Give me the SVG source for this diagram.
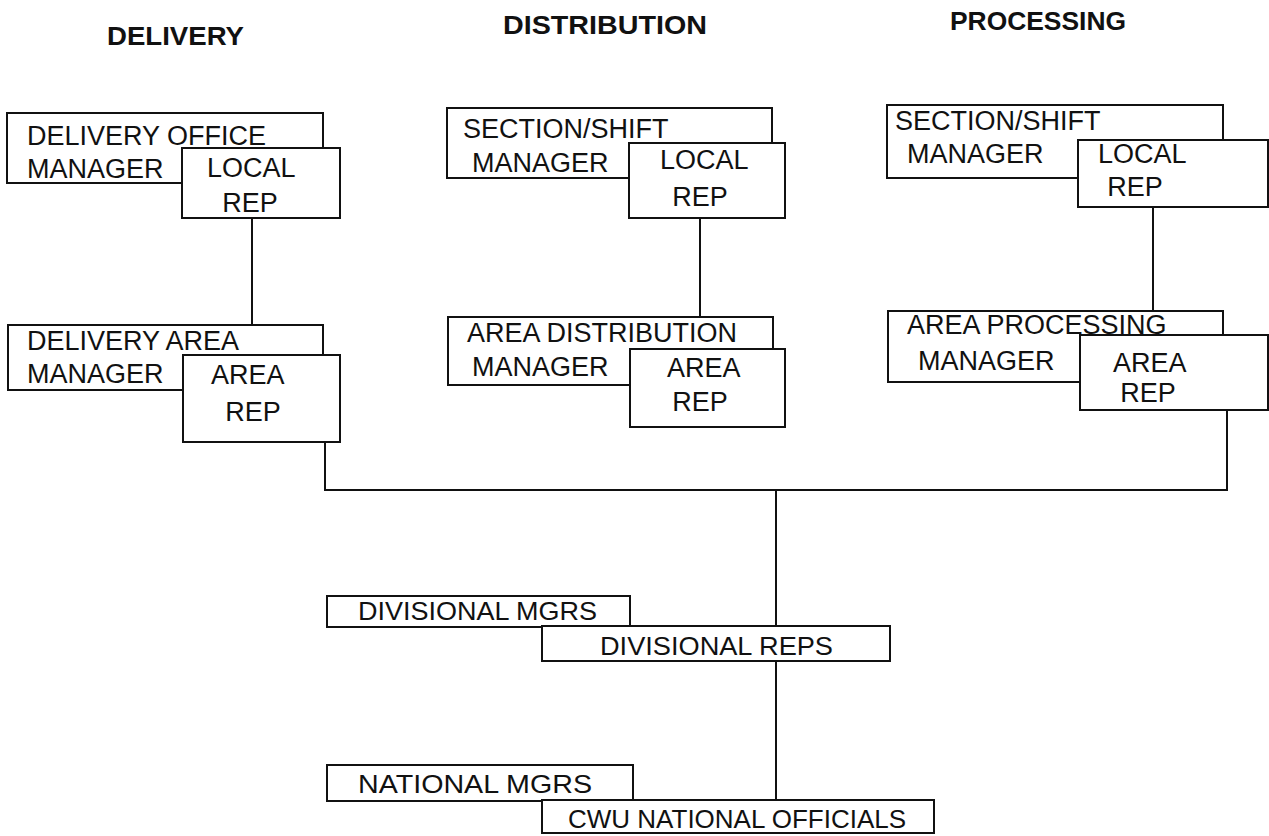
<svg xmlns="http://www.w3.org/2000/svg" width="1269" height="836" viewBox="0 0 1269 836">
<style>
.bg{fill:#fff}
rect.b{fill:#fff;stroke:#111;stroke-width:2}
text{font-family:"Liberation Sans",Arial,sans-serif;fill:#111}
.h{font-size:26px;font-weight:bold}
.t{font-size:27px}
.s{font-size:26px}
.m{text-anchor:middle}
.c line,.c polyline{stroke:#111;stroke-width:2;fill:none}
</style>
<rect class="bg" width="1269" height="836"/>
<g id="headings">
<text class="h" x="107" y="45" textLength="137" lengthAdjust="spacingAndGlyphs">DELIVERY</text>
<text class="h" x="503" y="34" textLength="204" lengthAdjust="spacingAndGlyphs">DISTRIBUTION</text>
<text class="h" x="950" y="30" textLength="176" lengthAdjust="spacingAndGlyphs">PROCESSING</text>
</g>
<g class="c" id="connectors">
<line x1="252" y1="218" x2="252" y2="325"/>
<line x1="700" y1="218" x2="700" y2="317"/>
<line x1="1153" y1="207" x2="1153" y2="311"/>
<polyline points="325,442 325,490 1227,490 1227,410"/>
<line x1="776" y1="490" x2="776" y2="626"/>
<line x1="776" y1="661" x2="776" y2="800"/>
</g>
<g id="delivery-office-manager"><rect class="b" x="7" y="113" width="316" height="70"/>
<text class="t" x="27" y="145">DELIVERY OFFICE</text><text class="t" x="27" y="178">MANAGER</text></g>
<g id="delivery-local-rep"><rect class="b" x="182" y="148" width="158" height="70"/>
<text class="t" x="207" y="177">LOCAL</text><text class="t m" x="250" y="212">REP</text></g>
<g id="delivery-area-manager"><rect class="b" x="8" y="325" width="315" height="65"/>
<text class="t" x="27" y="350">DELIVERY AREA</text><text class="t" x="27" y="383">MANAGER</text></g>
<g id="delivery-area-rep"><rect class="b" x="183" y="355" width="157" height="87"/>
<text class="t" x="211" y="384">AREA</text><text class="t m" x="253" y="421">REP</text></g>
<g id="distribution-section-manager"><rect class="b" x="447" y="108" width="325" height="70"/>
<text class="t" x="463" y="138">SECTION/SHIFT</text><text class="t" x="472" y="172">MANAGER</text></g>
<g id="distribution-local-rep"><rect class="b" x="629" y="143" width="156" height="75"/>
<text class="t" x="660" y="169">LOCAL</text><text class="t m" x="700" y="206">REP</text></g>
<g id="area-distribution-manager"><rect class="b" x="448" y="317" width="325" height="68"/>
<text class="t" x="467" y="342">AREA DISTRIBUTION</text><text class="t" x="472" y="376">MANAGER</text></g>
<g id="distribution-area-rep"><rect class="b" x="630" y="349" width="155" height="78"/>
<text class="t" x="667" y="377">AREA</text><text class="t m" x="700" y="411">REP</text></g>
<g id="processing-section-manager"><rect class="b" x="887" y="105" width="336" height="73"/>
<text class="t" x="895" y="130">SECTION/SHIFT</text><text class="t" x="907" y="163">MANAGER</text></g>
<g id="processing-local-rep"><rect class="b" x="1078" y="140" width="190" height="67"/>
<text class="t" x="1098" y="163">LOCAL</text><text class="t m" x="1135" y="196">REP</text></g>
<g id="area-processing-manager"><rect class="b" x="888" y="311" width="335" height="71"/>
<text class="t" x="907" y="334">AREA PROCESSING</text><text class="t" x="918" y="370">MANAGER</text></g>
<g id="processing-area-rep"><rect class="b" x="1080" y="335" width="188" height="75"/>
<text class="t" x="1113" y="372">AREA</text><text class="t m" x="1148" y="402">REP</text></g>
<g id="divisional-mgrs"><rect class="b" x="327" y="596" width="303" height="31"/>
<text class="s" x="358" y="620" textLength="239" lengthAdjust="spacingAndGlyphs">DIVISIONAL MGRS</text></g>
<g id="divisional-reps"><rect class="b" x="542" y="626" width="348" height="35"/>
<text class="s" x="600" y="655" textLength="233" lengthAdjust="spacingAndGlyphs">DIVISIONAL REPS</text></g>
<g id="national-mgrs"><rect class="b" x="327" y="765" width="306" height="36"/>
<text class="s" x="358" y="793" textLength="234" lengthAdjust="spacingAndGlyphs">NATIONAL MGRS</text></g>
<g id="cwu-national-officials"><rect class="b" x="542" y="800" width="392" height="33"/>
<text class="s" x="568" y="828">CWU NATIONAL OFFICIALS</text></g>
</svg>
